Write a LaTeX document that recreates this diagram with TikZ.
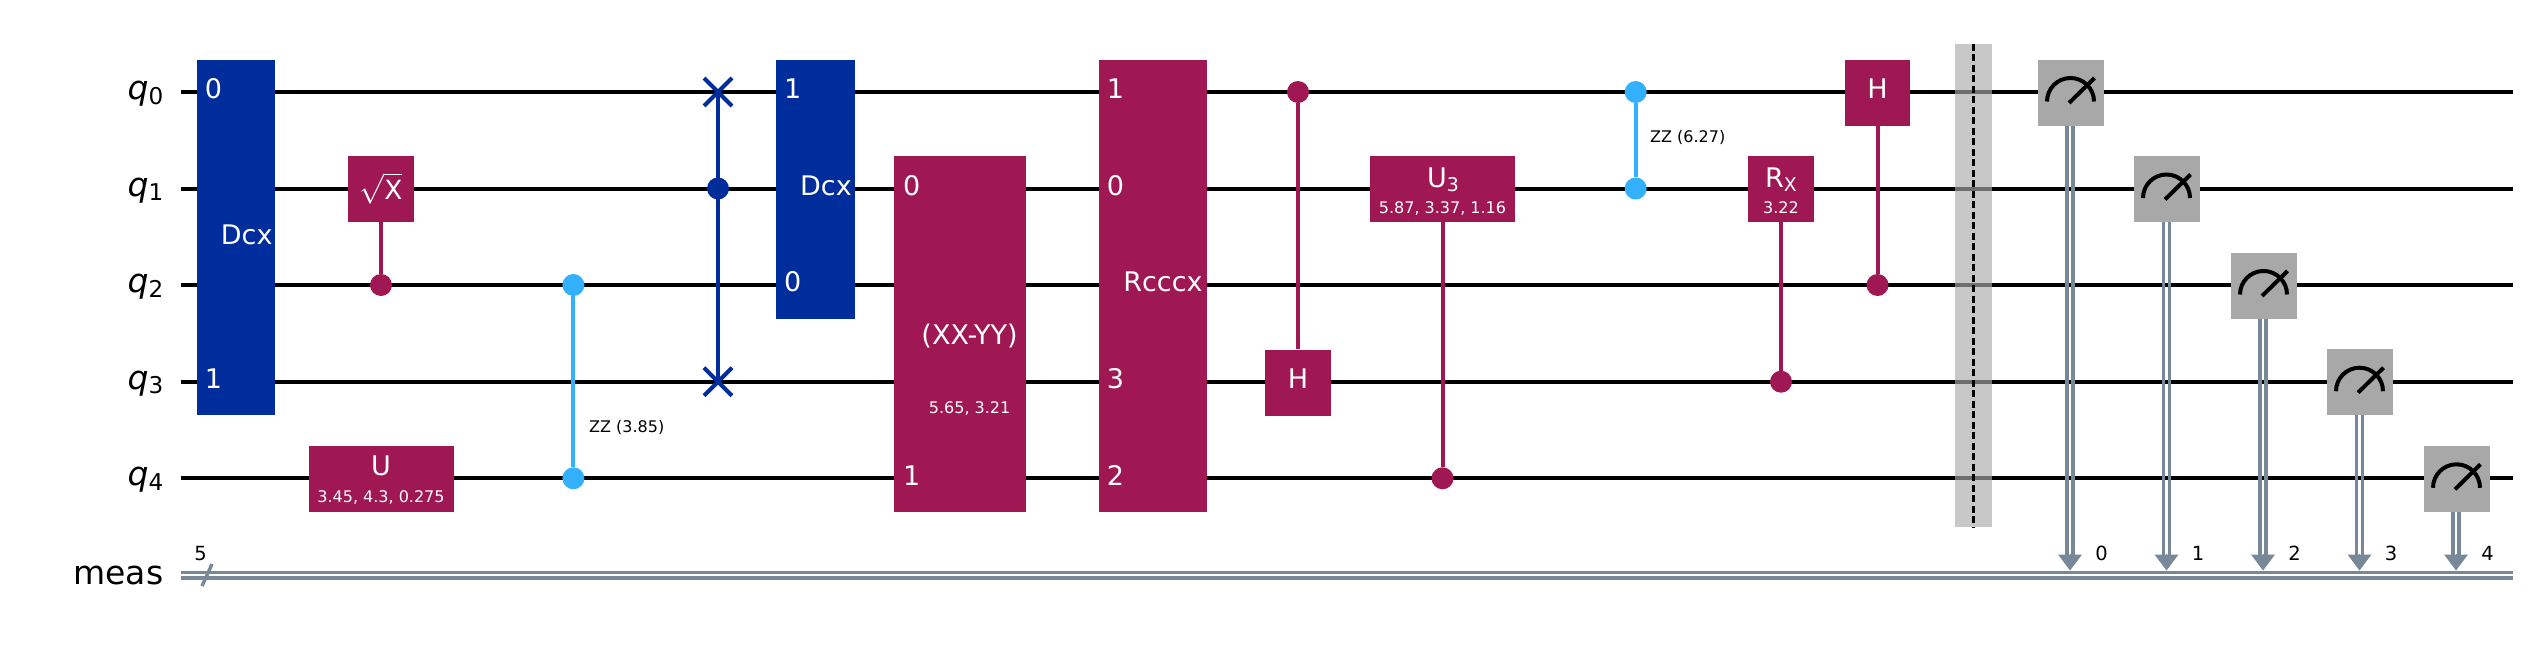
\documentclass[tikz,border=0pt]{standalone}
\usepackage{xcolor}
\usepackage{fontspec}
\setmainfont{DejaVu Sans}
\definecolor{qcmagenta}{HTML}{9F1853}
\definecolor{qcblue}{HTML}{002D9C}
\definecolor{qcsky}{HTML}{33B1FF}
\definecolor{qcgray}{HTML}{A8A8A8}
\definecolor{qcslate}{HTML}{778899}
\usepackage{tikz}
\usetikzlibrary{arrows.meta, shapes.misc}
\newcommand{\lowidx}[1]{\raisebox{-0.14em}{\scalebox{0.7}{#1}}}
\tikzset{
  wire/.style={line width=4pt, black},
  cwire/.style={line width=3.4pt, qcslate},
  gatebox/.style={rectangle, inner sep=0pt, minimum height=66pt},
  redbox/.style={gatebox, fill=qcmagenta},
  bluebox/.style={gatebox, fill=qcblue},
  measbox/.style={gatebox, fill=qcgray, minimum width=66pt},
  gatetxt/.style={anchor=base, inner sep=0pt, white, font=\fontsize{27pt}{29pt}\selectfont},
  paramtxt/.style={anchor=base, inner sep=0pt, white, font=\fontsize{16pt}{18pt}\selectfont},
  zztxt/.style={anchor=base west, inner sep=0pt, black, font=\fontsize{16pt}{18pt}\selectfont},
  regtxt/.style={anchor=base east, inner sep=0pt, black, font=\fontsize{33pt}{35pt}\selectfont},
  idxtxt/.style={anchor=base, inner sep=0pt, black, font=\fontsize{19.5pt}{21pt}\selectfont},
  ctrldot/.style={circle, inner sep=0pt, minimum size=22pt, fill=#1},
  ctrlline/.style={line width=4pt, #1},
  swapmark/.style={cross out, draw=qcblue, line width=4pt, inner sep=0pt, outer sep=0pt, minimum size=28pt},
  meterline/.style={line width=4pt, black},
  cregtip/.style={qcslate, line width=0pt, -{Triangle[length=16pt, width=24pt]}}
}
\begin{document}
\begin{tikzpicture}[x=1pt, y=-1pt]
  \useasboundingbox (0,0) rectangle (2535,648);

  % Wires
  \coordinate (q0a) at (181,92);    \coordinate (q0b) at (2513,92);
  \coordinate (q1a) at (181,188.5); \coordinate (q1b) at (2513,188.5);
  \coordinate (q2a) at (181,285);   \coordinate (q2b) at (2513,285);
  \coordinate (q3a) at (181,381.7); \coordinate (q3b) at (2513,381.7);
  \coordinate (q4a) at (181,478.3); \coordinate (q4b) at (2513,478.3);
  \coordinate (ma) at (181,572.2);  \coordinate (mb) at (2513,572.2);
  \coordinate (na) at (181,577.8);  \coordinate (nb) at (2513,577.8);
  \draw[wire] (q0a) -- (q0b);
  \draw[wire] (q1a) -- (q1b);
  \draw[wire] (q2a) -- (q2b);
  \draw[wire] (q3a) -- (q3b);
  \draw[wire] (q4a) -- (q4b);
  \draw[cwire] (ma) -- (mb);
  \draw[cwire] (na) -- (nb);

  % Register labels
  \node[regtxt] (lq0) at (163.5,99.5) {\itshape q\upshape\lowidx{0}};
  \node[regtxt] (lq1) at (163.5,196) {\itshape q\upshape\lowidx{1}};
  \node[regtxt] (lq2) at (163.5,292.5) {\itshape q\upshape\lowidx{2}};
  \node[regtxt] (lq3) at (163.5,389.2) {\itshape q\upshape\lowidx{3}};
  \node[regtxt] (lq4) at (163.5,485.8) {\itshape q\upshape\lowidx{4}};
  \node[regtxt] (lmeas) at (163.5,584) {meas};
  \coordinate (slasha) at (202,586);
  \coordinate (slashb) at (212,564);
  \draw[cwire] (slasha) -- (slashb);
  \node[idxtxt] (lsize) at (200.7,560.8) {5};

  % First Dcx
  \node[bluebox, minimum width=78pt, minimum height=355pt] (dcxa) at (236,237.5) {};
  \node[gatetxt] (dcxatxt) at (246.7,244) {Dcx};
  \node[gatetxt] (dcxap0) at (213.5,98.5) {0};
  \node[gatetxt] (dcxap1) at (213.5,388.2) {1};

  % Controlled sqrt X
  \node[redbox, minimum width=66pt] (sxgate) at (381,189) {};
  \node[gatetxt] (sxtxt) at (381,199.3) {\scalebox{1.2}{$\sqrt{\hbox{\fontsize{22pt}{24pt}\selectfont X}}$}};
  \node[ctrldot=qcmagenta] (sxctrl) at (381,285) {};
  \draw[ctrlline=qcmagenta] (sxctrl) -- (sxgate);

  % U
  \node[redbox, minimum width=145pt] (ugate) at (381,479) {};
  \node[gatetxt] (utxt) at (381,475) {U};
  \node[paramtxt] (uparam) at (381,502.4) {3.45, 4.3, 0.275};

  % First ZZ
  \node[ctrldot=qcsky] (zza) at (573.4,285) {};
  \node[ctrldot=qcsky] (zzb) at (573.4,478.3) {};
  \draw[ctrlline=qcsky] (zza) -- (zzb);
  \node[zztxt] (zzatxt) at (589,432) {ZZ (3.85)};

  % Controlled swap
  \node[swapmark] (swapt) at (718,92) {};
  \node[swapmark] (swapb) at (718,381.7) {};
  \node[ctrldot=qcblue] (swapc) at (718,188.5) {};
  \draw[ctrlline=qcblue] (swapt.center) -- (swapb.center);

  % Second Dcx
  \node[bluebox, minimum width=79pt, minimum height=259pt] (dcxb) at (815.5,189.5) {};
  \node[gatetxt] (dcxbtxt) at (826,195.5) {Dcx};
  \node[gatetxt] (dcxbp1) at (792.6,98.5) {1};
  \node[gatetxt] (dcxbp0) at (792.6,291.5) {0};

  % XX-YY
  \node[redbox, minimum width=132pt, minimum height=356pt] (xxyy) at (960,334) {};
  \node[gatetxt] (xxyytxt) at (969.6,344) {(XX-YY)};
  \node[paramtxt] (xxyyparam) at (969.6,413.3) {5.65, 3.21};
  \node[gatetxt] (xxyyp0) at (911.6,195.2) {0};
  \node[gatetxt] (xxyyp1) at (911.6,485.5) {1};

  % Rcccx
  \node[redbox, minimum width=108pt, minimum height=452pt] (rcccx) at (1153,286) {};
  \node[gatetxt] (rcccxtxt) at (1163,291.5) {Rcccx};
  \node[gatetxt] (rcccxp1) at (1115.5,98.5) {1};
  \node[gatetxt] (rcccxp0) at (1115.5,195.2) {0};
  \node[gatetxt] (rcccxp3) at (1115.5,388.2) {3};
  \node[gatetxt] (rcccxp2) at (1115.5,485) {2};

  % Controlled H, q0 to q3
  \node[redbox, minimum width=66pt] (hgatea) at (1298,382.5) {};
  \node[gatetxt] (hatxt) at (1298,388.2) {H};
  \node[ctrldot=qcmagenta] (hactrl) at (1298,92) {};
  \draw[ctrlline=qcmagenta] (hactrl) -- (hgatea);

  % Controlled U3
  \node[redbox, minimum width=145pt] (u3gate) at (1442.5,189) {};
  \node[gatetxt] (u3txt) at (1443,187.7) {U\lowidx{3}};
  \node[paramtxt] (u3param) at (1442.5,213.2) {5.87, 3.37, 1.16};
  \node[ctrldot=qcmagenta] (u3ctrl) at (1442.5,478.3) {};
  \draw[ctrlline=qcmagenta] (u3ctrl) -- (u3gate);

  % Second ZZ
  \node[ctrldot=qcsky] (zzc) at (1635.7,92) {};
  \node[ctrldot=qcsky] (zzd) at (1635.7,188.5) {};
  \draw[ctrlline=qcsky] (zzc) -- (zzd);
  \node[zztxt] (zzbtxt) at (1650,142.4) {ZZ (6.27)};

  % Controlled Rx
  \node[redbox, minimum width=66pt] (rxgate) at (1781,189) {};
  \node[gatetxt] (rxtxt) at (1781,187.7) {R\lowidx{X}};
  \node[paramtxt] (rxparam) at (1781,213.2) {3.22};
  \node[ctrldot=qcmagenta] (rxctrl) at (1781,381.7) {};
  \draw[ctrlline=qcmagenta] (rxctrl) -- (rxgate);

  % Controlled H, q2 to q0
  \node[redbox, minimum width=65pt] (hgateb) at (1877.5,92.5) {};
  \node[gatetxt] (hbtxt) at (1877.5,98.5) {H};
  \node[ctrldot=qcmagenta] (hbctrl) at (1877.5,285) {};
  \draw[ctrlline=qcmagenta] (hbctrl) -- (hgateb);

  % Barrier
  \node[gatebox, fill={rgb,255:red,170;green,170;blue,170}, fill opacity=0.65, minimum width=37pt, minimum height=483pt] (barrier) at (1973.5,285.5) {};
  \draw[black, line width=2.2pt, dash pattern=on 7pt off 3.5pt] (barrier.north) -- (barrier.south);

  % Measurements
  \node[measbox] (ma0) at (2071,92.5) {};
  \node[measbox] (ma1) at (2167,189) {};
  \node[measbox] (ma2) at (2264,285.5) {};
  \node[measbox] (ma3) at (2360,382) {};
  \node[measbox] (ma4) at (2457,479) {};
  \draw[meterline] (2047,101.5) arc[start angle=180, end angle=0, radius=23.5pt];
  \draw[meterline] (2069,103) -- (2094.5,78);
  \draw[meterline] (2143,198) arc[start angle=180, end angle=0, radius=23.5pt];
  \draw[meterline] (2165,199.5) -- (2190.5,174.5);
  \draw[meterline] (2240,294.5) arc[start angle=180, end angle=0, radius=23.5pt];
  \draw[meterline] (2262,296) -- (2287.5,271);
  \draw[meterline] (2336,391.2) arc[start angle=180, end angle=0, radius=23.5pt];
  \draw[meterline] (2358,392.7) -- (2383.5,367.7);
  \draw[meterline] (2433,487.8) arc[start angle=180, end angle=0, radius=23.5pt];
  \draw[meterline] (2455,489.3) -- (2480.5,464.3);

  % Classical drops
  \coordinate (c0) at (2070,570.5);
  \coordinate (c1) at (2166.5,570.5);
  \coordinate (c2) at (2263,570.5);
  \coordinate (c3) at (2359.5,570.5);
  \coordinate (c4) at (2456,570.5);
  \draw[cwire] ([xshift=-3pt]c0 |- ma0.south) -- ([xshift=-3pt,yshift=14pt]c0);
  \draw[cwire] ([xshift=3pt]c0 |- ma0.south) -- ([xshift=3pt,yshift=14pt]c0);
  \draw[cregtip] ([yshift=16pt]c0) -- (c0);
  \draw[cwire] ([xshift=-3pt]c1 |- ma1.south) -- ([xshift=-3pt,yshift=14pt]c1);
  \draw[cwire] ([xshift=3pt]c1 |- ma1.south) -- ([xshift=3pt,yshift=14pt]c1);
  \draw[cregtip] ([yshift=16pt]c1) -- (c1);
  \draw[cwire] ([xshift=-3pt]c2 |- ma2.south) -- ([xshift=-3pt,yshift=14pt]c2);
  \draw[cwire] ([xshift=3pt]c2 |- ma2.south) -- ([xshift=3pt,yshift=14pt]c2);
  \draw[cregtip] ([yshift=16pt]c2) -- (c2);
  \draw[cwire] ([xshift=-3pt]c3 |- ma3.south) -- ([xshift=-3pt,yshift=14pt]c3);
  \draw[cwire] ([xshift=3pt]c3 |- ma3.south) -- ([xshift=3pt,yshift=14pt]c3);
  \draw[cregtip] ([yshift=16pt]c3) -- (c3);
  \draw[cwire] ([xshift=-3pt]c4 |- ma4.south) -- ([xshift=-3pt,yshift=14pt]c4);
  \draw[cwire] ([xshift=3pt]c4 |- ma4.south) -- ([xshift=3pt,yshift=14pt]c4);
  \draw[cregtip] ([yshift=16pt]c4) -- (c4);
  \node[idxtxt] (cl0) at (2101.5,560.8) {0};
  \node[idxtxt] (cl1) at (2198,560.8) {1};
  \node[idxtxt] (cl2) at (2294.5,560.8) {2};
  \node[idxtxt] (cl3) at (2391,560.8) {3};
  \node[idxtxt] (cl4) at (2487.5,560.8) {4};
\end{tikzpicture}
\end{document}
